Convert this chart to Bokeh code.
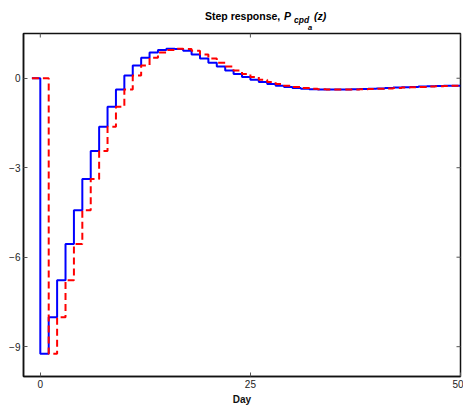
import math
from bokeh.plotting import figure
from bokeh.layouts import column
from bokeh.models import Range1d, FixedTicker, Label
from bokeh.embed import file_html
from bokeh.resources import INLINE

# ---- data ----
days = list(range(-1, 51))
# step response (value held from day k to k+1), day -1 is the pre-step level
response = [0.0,
            -9.24, -8.01, -6.77, -5.56, -4.43, -3.38, -2.44, -1.63, -0.96, -0.38,
            0.09, 0.43, 0.69, 0.86, 0.95, 0.99, 0.98, 0.92, 0.80, 0.66,
            0.52, 0.39, 0.26, 0.14, 0.04, -0.05, -0.13, -0.19, -0.25, -0.29,
            -0.33, -0.35, -0.37, -0.38, -0.38, -0.38, -0.38, -0.37, -0.36, -0.35,
            -0.34, -0.33, -0.31, -0.30, -0.29, -0.28, -0.27, -0.26, -0.25, -0.25,
            -0.25]
# delayed (one day) response
delayed = [0.0] + response[:-1]

x_min, x_max = -2, 50
y_min, y_max = -10, 1.5
x_ticks = [0, 25, 50]
y_ticks = [-9, -6, -3, 0]
y_tick_labels = ["\u22129", "\u22126", "\u22123", "0"]

FONT = "Liberation Sans"
W = 463
TITLE_H = 32
MAIN_H = 375

# ---- title strip (separate small figure so the text is not clipped) ----
tfig = figure(width=W, height=TITLE_H, output_backend="svg", toolbar_location=None,
              x_range=Range1d(0, W), y_range=Range1d(0, TITLE_H),
              x_axis_location=None, y_axis_location=None, min_border=0)
tfig.outline_line_color = None
tfig.xgrid.visible = False
tfig.ygrid.visible = False

def tlabel(txt, x, y, size, style):
    tfig.add_layout(Label(x=x, y=y, x_units="screen", y_units="screen", text=txt,
                          text_font=FONT, text_font_size=size,
                          text_font_style=style, text_color="#000000",
                          text_baseline="alphabetic", text_align="left"))

tlabel("Step response,", 181.5, 16.3, "10.5px", "bold")
tlabel("P", 260.5, 16.3, "10.5px", "bold italic")
tlabel("cpd", 270.5, 13, "8.5px", "bold italic")
tlabel("a", 284.5, 5.5, "7.5px", "bold italic")
tlabel("(z)", 290.5, 16.3, "10.5px", "bold italic")

# ---- main plot ----
p = figure(width=W, height=MAIN_H, output_backend="svg", toolbar_location=None,
           x_range=Range1d(x_min, x_max), y_range=Range1d(y_min, y_max),
           min_border_left=23, min_border_right=3, min_border_top=1,
           min_border_bottom=30)
p.background_fill_color = "white"
p.border_fill_color = "white"
p.outline_line_color = "#111111"
p.outline_line_width = 1.5
p.xgrid.visible = False
p.ygrid.visible = False

p.step(days, response, mode="after", line_color="#0000ff", line_width=2)
p.step(days, delayed, mode="after", line_color="#ff0000", line_width=2,
       line_dash="7 4")

# inward ticks on the top and right edges of the box
p.scatter(x=x_ticks, y=[y_max] * len(x_ticks), marker="dash", size=8,
          angle=math.pi / 2, line_color="#555555", line_width=1)
p.scatter(x=[x_max] * len(y_ticks), y=y_ticks, marker="dash", size=8,
          angle=0, line_color="#555555", line_width=1)

def style_axis(ax):
    ax.axis_line_color = "#111111"
    ax.axis_line_width = 1.5
    ax.major_tick_in = 4
    ax.major_tick_out = 0
    ax.major_tick_line_color = "#555555"
    ax.minor_tick_line_color = None
    ax.major_label_text_font = FONT
    ax.major_label_text_font_size = "10px"
    ax.major_label_text_color = "#222222"
    ax.major_label_standoff = 3

xa = p.xaxis[0]
xa.ticker = FixedTicker(ticks=x_ticks)
style_axis(xa)
xa.axis_label = "Day"
xa.axis_label_text_font = FONT
xa.axis_label_text_font_size = "10px"
xa.axis_label_text_font_style = "bold"
xa.axis_label_text_color = "#111111"
xa.axis_label_standoff = 3

ya = p.yaxis[0]
ya.ticker = FixedTicker(ticks=y_ticks)
ya.major_label_overrides = {t: s for t, s in zip(y_ticks, y_tick_labels)}
style_axis(ya)

layout = column(tfig, p, spacing=0)
open("out.html", "w").write(file_html(layout, INLINE))
